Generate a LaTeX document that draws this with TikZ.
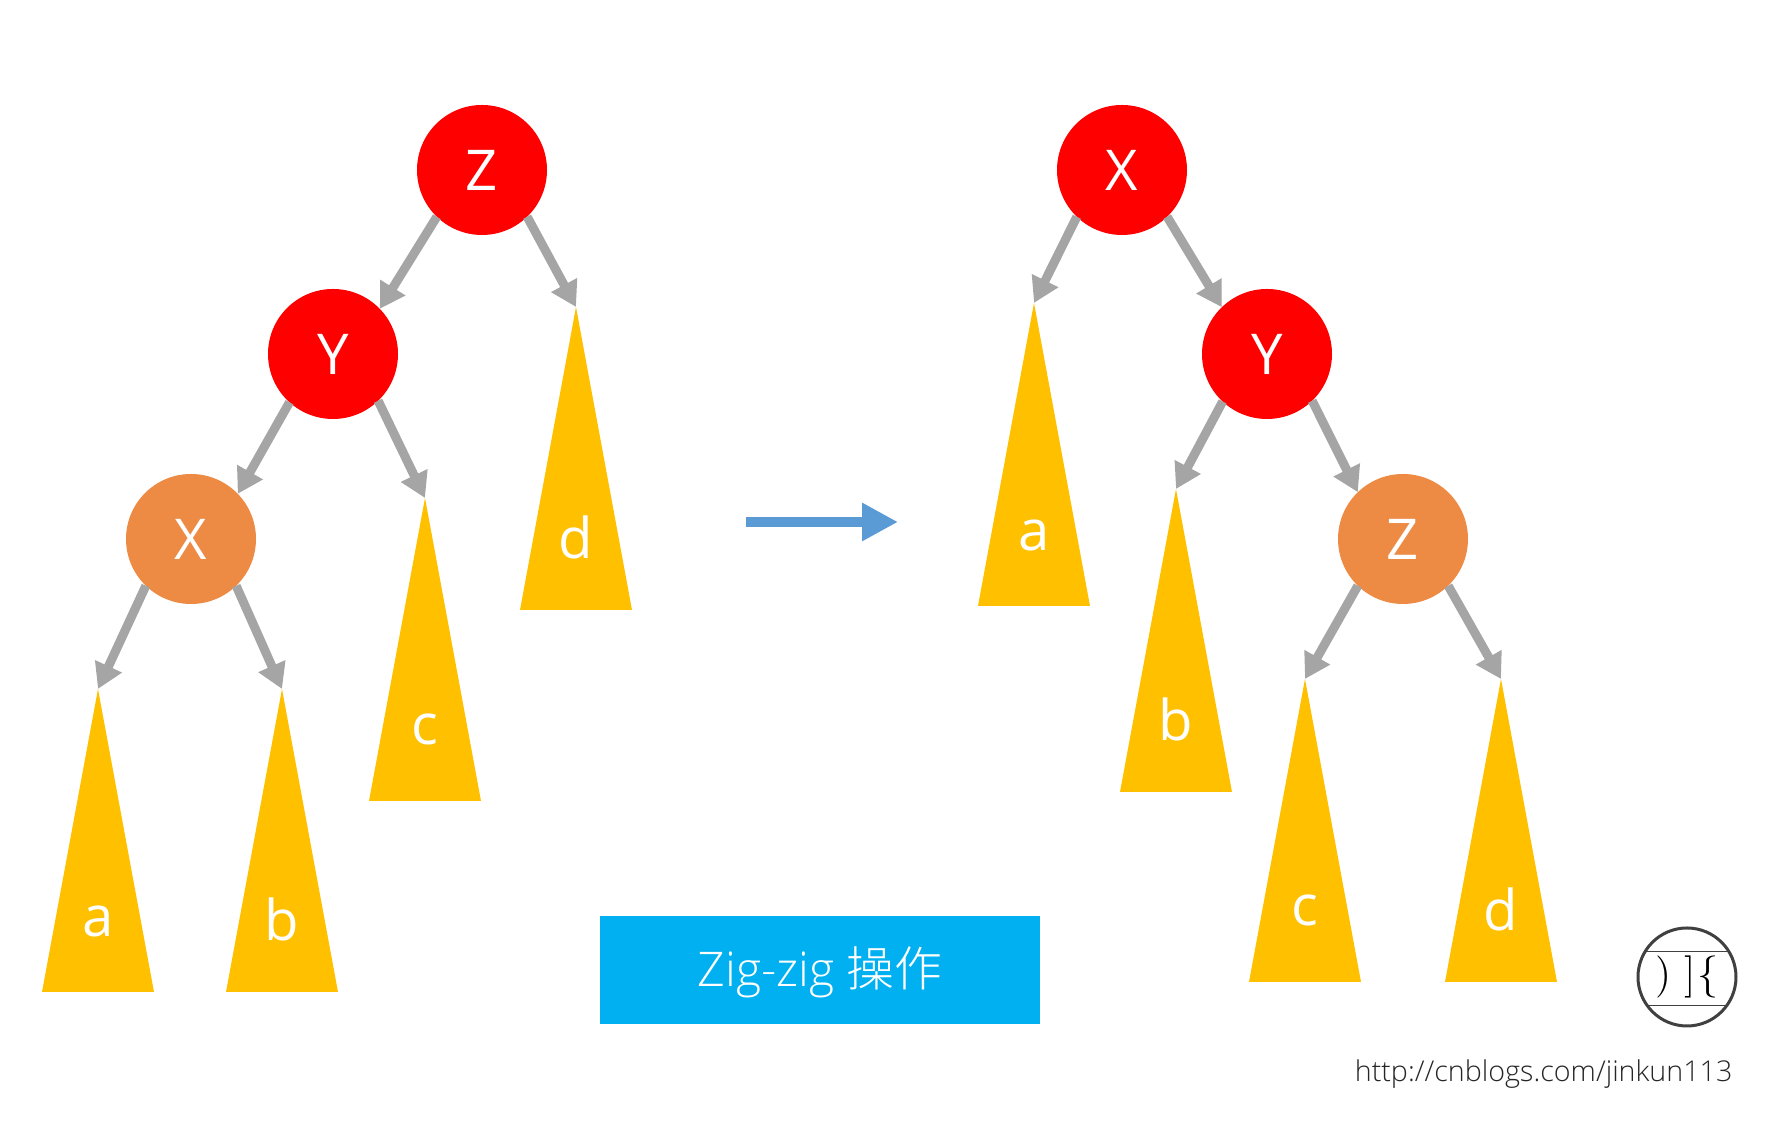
\documentclass[tikz,border=0pt]{standalone}
\usepackage{fontspec}
\setmainfont{Open Sans}
\newfontfamily\lightfont{Open Sans Light}
\newfontfamily\cjklight{Noto Sans CJK SC Light}
\usetikzlibrary{arrows.meta,shapes.geometric}
\definecolor{nodered}{HTML}{FF0000}
\definecolor{nodeorange}{HTML}{ED8B45}
\definecolor{subgold}{HTML}{FFC000}
\definecolor{arrowgray}{HTML}{A5A5A5}
\definecolor{movblue}{HTML}{5B9BD5}
\definecolor{capblue}{HTML}{00B0F0}
\definecolor{markgray}{HTML}{404040}

\begin{document}
\begin{tikzpicture}[
  %% Tree nodes: filled circles
  rednode/.style={circle,fill=nodered,minimum size=1.30cm,inner sep=0pt,outer sep=0pt,
                  text=white,font=\fontsize{16}{18}\selectfont},
  orangenode/.style={rednode,fill=nodeorange},
  %% Subtrees: tall triangles hung from the apex
  subtree/.style={isosceles triangle,isosceles triangle stretches,shape border rotate=90,
                  fill=subgold,minimum width=1.12cm,minimum height=3.03cm,inner sep=0pt,outer sep=0pt,
                  anchor=apex,text=white,text depth=0.31cm,font=\fontsize{16}{18}\selectfont},
  treearrow/.style={-{Triangle[length=2.5mm,width=2.8mm]},draw=arrowgray,line width=0.9mm},
  movearrow/.style={-{Triangle[length=3.6mm,width=3.6mm]},draw=movblue,line width=1.05mm},
  captionbox/.style={fill=capblue,minimum width=4.40cm,minimum height=1.08cm,inner sep=0pt,
                     text=white,text height=0.40cm,text depth=0.07cm},
  logomark/.style={circle,draw=markgray,line width=0.3mm,minimum size=0.98cm,inner sep=0pt,outer sep=0pt}
]
\useasboundingbox (0,0) rectangle (17.71,11.29);

%% ---- LEFT TREE ----
\node[rednode]    (lz) at (4.82, 9.59) {Z};
\node[rednode]    (ly) at (3.33, 7.75) {Y};
\node[orangenode] (lx) at (1.91, 5.90) {X};
\node[subtree] (la) at (0.98, 4.40) {a};
\node[subtree] (lb) at (2.82, 4.40) {b};
\node[subtree] (lc) at (4.25, 6.31) {c};
\node[subtree] (ld) at (5.76, 8.22) {d};

\draw[treearrow] (lz.226) -- (ly.44);
\draw[treearrow] (lz.314) -- (ld.apex);
\draw[treearrow] (ly.228) -- (lx.44);
\draw[treearrow] (ly.314) -- (lc.apex);
\draw[treearrow] (lx.226) -- (la.apex);
\draw[treearrow] (lx.314) -- (lb.apex);

%% ---- RIGHT TREE ----
\node[rednode]    (rx) at (11.22, 9.59) {X};
\node[rednode]    (ry) at (12.67, 7.75) {Y};
\node[orangenode] (rz) at (14.03, 5.90) {Z};
\node[subtree] (ra) at (10.34, 8.26) {a};
\node[subtree] (rb) at (11.76, 6.40) {b};
\node[subtree] (rc) at (13.05, 4.50) {c};
\node[subtree] (rd) at (15.01, 4.50) {d};

\draw[treearrow] (rx.226) -- (ra.apex);
\draw[treearrow] (rx.314) -- (ry.134);
\draw[treearrow] (ry.227) -- (rb.apex);
\draw[treearrow] (ry.314) -- (rz.134);
\draw[treearrow] (rz.226) -- (rc.apex);
\draw[treearrow] (rz.314) -- (rd.apex);

%% ---- MOVE ARROW ----
\coordinate (movefrom) at (7.46, 6.07);
\coordinate (moveto)   at (8.98, 6.07);
\draw[movearrow] (movefrom) -- (moveto);

%% ---- CAPTION ----
\node[captionbox] (caption) at (8.20, 1.59)
  {\fontsize{13.6}{17}\selectfont\lightfont Zig-zig {\cjklight 操作}};

%% ---- LOGO AND URL ----
\node[logomark] (logo) at (16.87, 1.52) {\fontsize{12}{12}\selectfont\fontspec{Latin Modern Roman})\kern3.5pt]\kern0.5pt\{};
\draw[markgray,line width=0.1mm] (logo.148) -- (logo.32);
\draw[markgray,line width=0.1mm] (logo.216) -- (logo.324);
\node[anchor=base east,inner sep=0pt,text=black!85,font=\fontsize{8.15}{12}\selectfont\lightfont] (url) at (17.33, 0.47)
  {http://cnblogs.com/jinkun113};

\end{tikzpicture}
\end{document}
